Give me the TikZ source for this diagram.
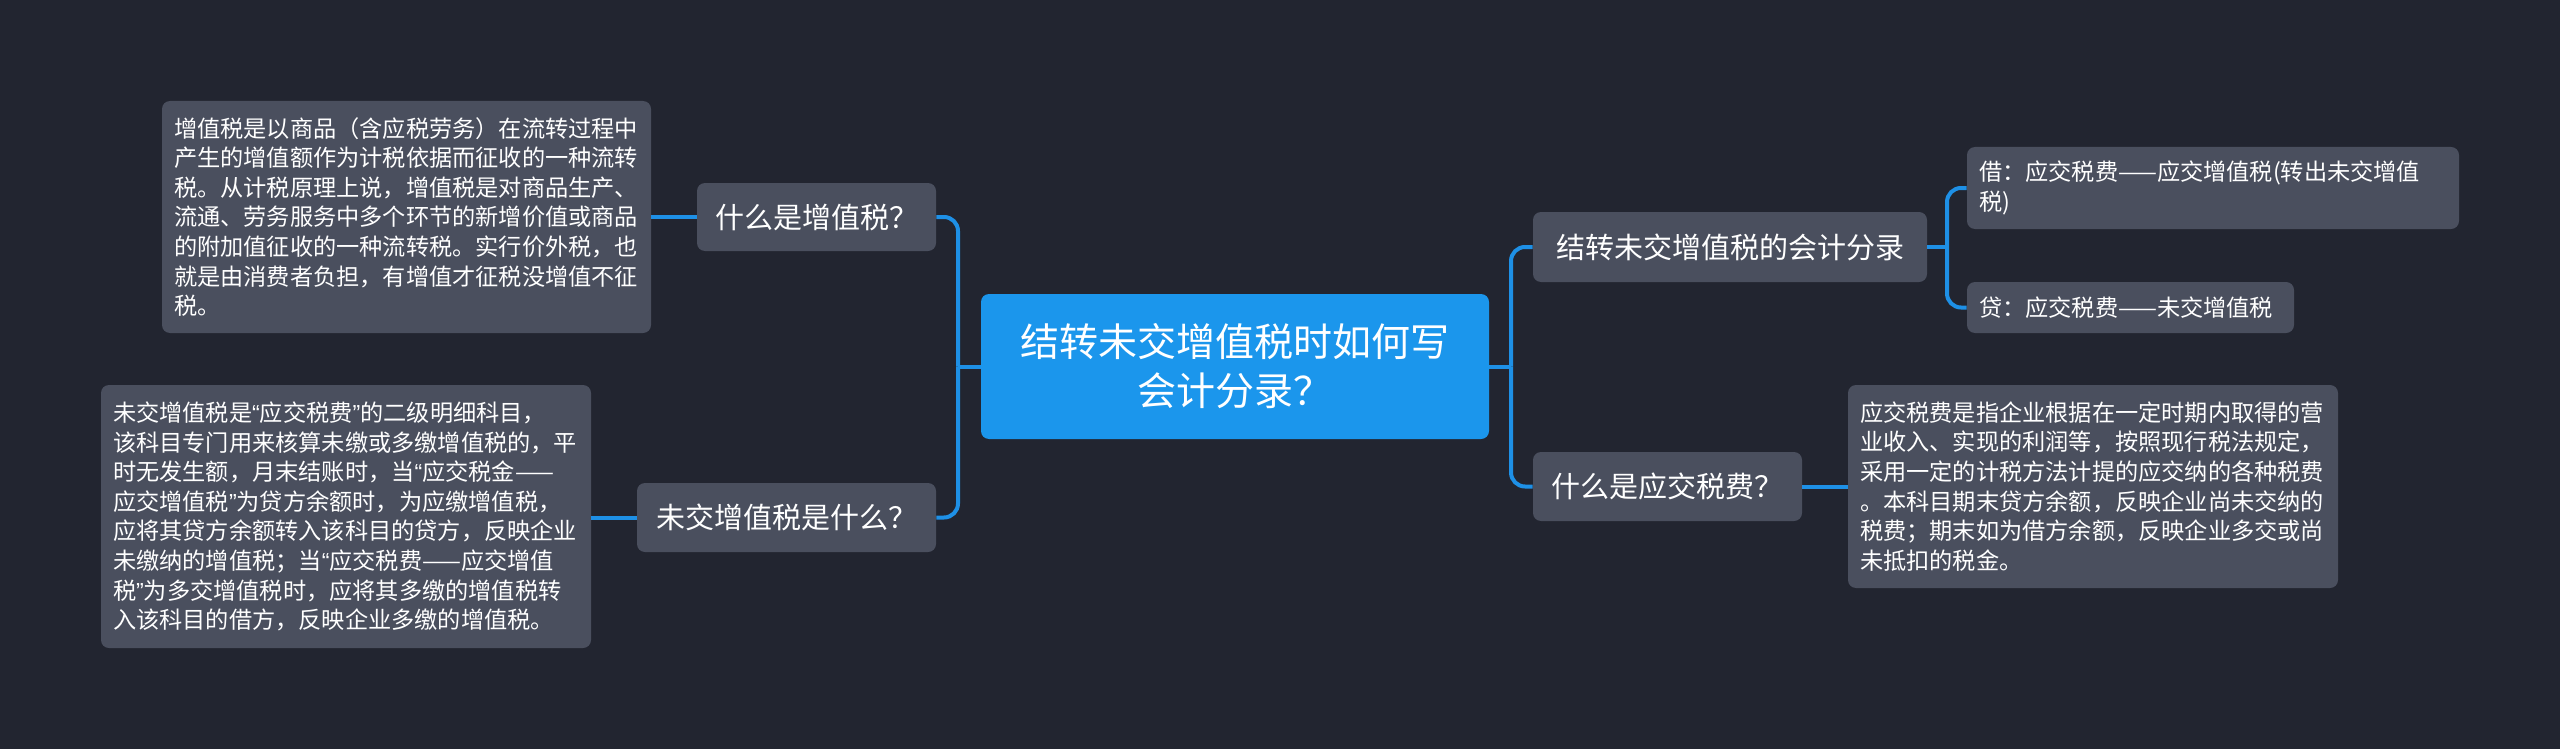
\documentclass[tikz,border=0pt]{standalone}
\usepackage{fontspec}
\setmainfont{Noto Sans CJK SC}
\newfontfamily\qfont{Liberation Sans}
\definecolor{bgdark}{RGB}{34,37,48}
\definecolor{boxgray}{RGB}{74,79,94}
\definecolor{rootblue}{RGB}{27,150,236}
\definecolor{linkblue}{RGB}{30,144,230}

\begin{document}
\begin{tikzpicture}[x=0.5pt,y=-0.5pt,
  link/.style={draw=linkblue,line width=2pt,rounded corners=7pt},
  box/.style={fill=boxgray,text=white,rounded corners=4pt,inner ysep=0pt},
  rootbox/.style={box,fill=rootblue,align=center,inner xsep=0pt,
    font=\fontsize{19.5}{24.5}\selectfont},
  askbox/.style={box,align=center,inner xsep=0pt,font=\fontsize{14.5}{17}\selectfont},
  leafbox/.style={box,align=left,inner xsep=6pt,font=\fontsize{11.6}{14.8}\selectfont}]
\fill[bgdark] (0,0) rectangle (2560,749);
\useasboundingbox (0,0) rectangle (2560,749);
\node[rootbox,minimum width=254pt,minimum height=72.5pt] (root) at (1235,366.5)
  {结转未交增值税时如何写\\会计分录？};
\node[askbox,minimum width=119.5pt,minimum height=34pt] (vat) at (816.5,217) {什么是增值税？};
\node[askbox,minimum width=149.5pt,minimum height=34.5pt] (unpaid) at (786.5,517.5) {未交增值税是什么？};
\node[askbox,minimum width=197pt,minimum height=35pt] (entry) at (1730,247) {结转未交增值税的会计分录};
\node[askbox,minimum width=134.5pt,minimum height=34.5pt] (payable) at (1667.5,486.5) {什么是应交税费？};
\node[leafbox,text width=232.5pt,minimum height=116pt] (vatleaf) at (406.5,217)
  {增值税是以商品（含应税劳务）在流转过程中\\
   产生的增值额作为计税依据而征收的一种流转\\
   税。从计税原理上说，增值税是对商品生产、\\
   流通、劳务服务中多个环节的新增价值或商品\\
   的附加值征收的一种流转税。实行价外税，也\\
   就是由消费者负担，有增值才征税没增值不征\\
   税。};
\node[leafbox,text width=233pt,minimum height=131.5pt] (unpaidleaf) at (346,516.5)
  {未交增值税是{\qfont “}应交税费{\qfont ”}的二级明细科目，\\
   该科目专门用来核算未缴或多缴增值税的，平\\
   时无发生额，月末结账时，当{\qfont “}应交税金——\\
   应交增值税{\qfont ”}为贷方余额时，为应缴增值税，\\
   应将其贷方余额转入该科目的贷方，反映企业\\
   未缴纳的增值税；当{\qfont “}应交税费——应交增值\\
   税{\qfont ”}为多交增值税时，应将其多缴的增值税转\\
   入该科目的借方，反映企业多缴的增值税。};
\node[leafbox,text width=234pt,minimum height=41pt] (debit) at (2213,188)
  {借：应交税费——应交增值税(转出未交增值\\税)};
\node[leafbox,text width=151.5pt,minimum height=25.5pt] (credit) at (2130.5,307.5)
  {贷：应交税费——未交增值税};
\node[leafbox,text width=233pt,minimum height=101.5pt] (payleaf) at (2093,486.5)
  {应交税费是指企业根据在一定时期内取得的营\\
   业收入、实现的利润等，按照现行税法规定，\\
   采用一定的计税方法计提的应交纳的各种税费\\
   。本科目期末贷方余额，反映企业尚未交纳的\\
   税费；期末如为借方余额，反映企业多交或尚\\
   未抵扣的税金。};
\coordinate (jl) at (958,366.5);
\coordinate (jr) at (1511,366.5);
\coordinate (je) at (1947,247);
\draw[link] (root.west) -- (jl);
\draw[link] (jl) |- (vat.east);
\draw[link] (jl) |- (unpaid.east);
\draw[link] (vat.west) -- (vatleaf.east);
\draw[link] (unpaid.west) -- (unpaidleaf.east |- unpaid.west);
\draw[link] (root.east) -- (jr);
\draw[link] (jr) |- (entry.west);
\draw[link] (jr) |- (payable.west);
\draw[link] (entry.east) -- (je);
\draw[link] (je) |- (debit.west);
\draw[link] (je) |- (credit.west);
\draw[link] (payable.east) -- (payleaf.west);
\end{tikzpicture}
\end{document}
